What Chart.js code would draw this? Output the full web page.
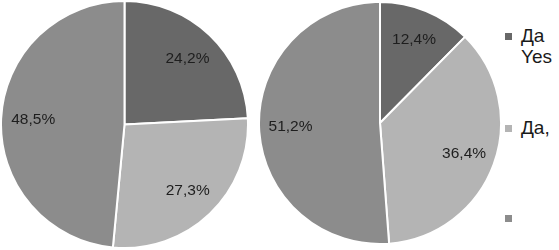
<!DOCTYPE html>
<html>
<head>
<meta charset="utf-8">
<script src="https://cdn.jsdelivr.net/npm/chart.js@4.4.0/dist/chart.umd.min.js"></script>
<style>
  html, body { margin: 0; padding: 0; background: #fff; width: 559px; height: 250px; overflow: hidden; }
  .pie { position: absolute; }
  #legend { position: absolute; left: 505px; top: 0; font-family: "Liberation Sans", Arial, sans-serif; font-size: 19px; color: #1a1a1a; white-space: nowrap; }
  .item { position: absolute; left: 0; line-height: 21px; }
  .box { position: absolute; left: 0; width: 7px; height: 7px; }
  .txt { position: absolute; left: 16px; }
</style>
</head>
<body>
<div class="pie" style="left:0px;top:0px;width:249px;height:249px"><canvas id="pieLeft" width="249" height="249"></canvas></div>
<div class="pie" style="left:258px;top:1px;width:244px;height:244px"><canvas id="pieRight" width="244" height="244"></canvas></div>
<div id="legend"></div>
<script>
const categories = ["Да\nYes", "Да,", ""];
const leftValues = [24.2, 27.3, 48.5];
const rightValues = [12.4, 36.4, 51.2];
const colors = ['#686868', '#b4b4b4', '#8c8c8c'];

// percent labels inside slices
const sliceLabels = {
    id: 'sliceLabels',
    afterDatasetsDraw(chart) {
        const ctx = chart.ctx;
        const meta = chart.getDatasetMeta(0);
        const data = chart.data.datasets[0].data;
        ctx.save();
        ctx.font = '15.5px "Liberation Sans", Arial, sans-serif';
        ctx.fillStyle = '#1e1e1e';
        ctx.textAlign = 'center';
        ctx.textBaseline = 'middle';
        meta.data.forEach((arc, i) => {
            const mid = (arc.startAngle + arc.endAngle) / 2;
            const r = arc.outerRadius * 0.74;
            const x = arc.x + Math.cos(mid) * r;
            const y = arc.y + Math.sin(mid) * r;
            ctx.fillText(data[i].toFixed(1).replace('.', ',') + '%', x, y);
        });
        ctx.restore();
    }
};

function makePie(id, values) {
    return new Chart(document.getElementById(id), {
        type: 'pie',
        data: {
            labels: categories,
            datasets: [{
                data: values,
                backgroundColor: colors,
                borderColor: '#ffffff',
                borderWidth: 2
            }]
        },
        options: {
            responsive: false,
            animation: false,
            layout: { padding: 0 },
            plugins: {
                legend: { display: false },
                tooltip: { enabled: false }
            }
        },
        plugins: [sliceLabels]
    });
}

makePie('pieLeft', leftValues);
makePie('pieRight', rightValues);

// legend on the right, cut off by the frame like the original
const legendTops = [25, 117, 207];
const legend = document.getElementById('legend');
categories.forEach((label, i) => {
    const item = document.createElement('div');
    item.className = 'item';
    item.style.top = legendTops[i] + 'px';
    const box = document.createElement('div');
    box.className = 'box';
    box.style.background = colors[i];
    box.style.top = '8px';
    const txt = document.createElement('div');
    txt.className = 'txt';
    txt.innerHTML = label.split('\n').join('<br>');
    item.appendChild(box);
    item.appendChild(txt);
    legend.appendChild(item);
});
</script>
</body>
</html>
